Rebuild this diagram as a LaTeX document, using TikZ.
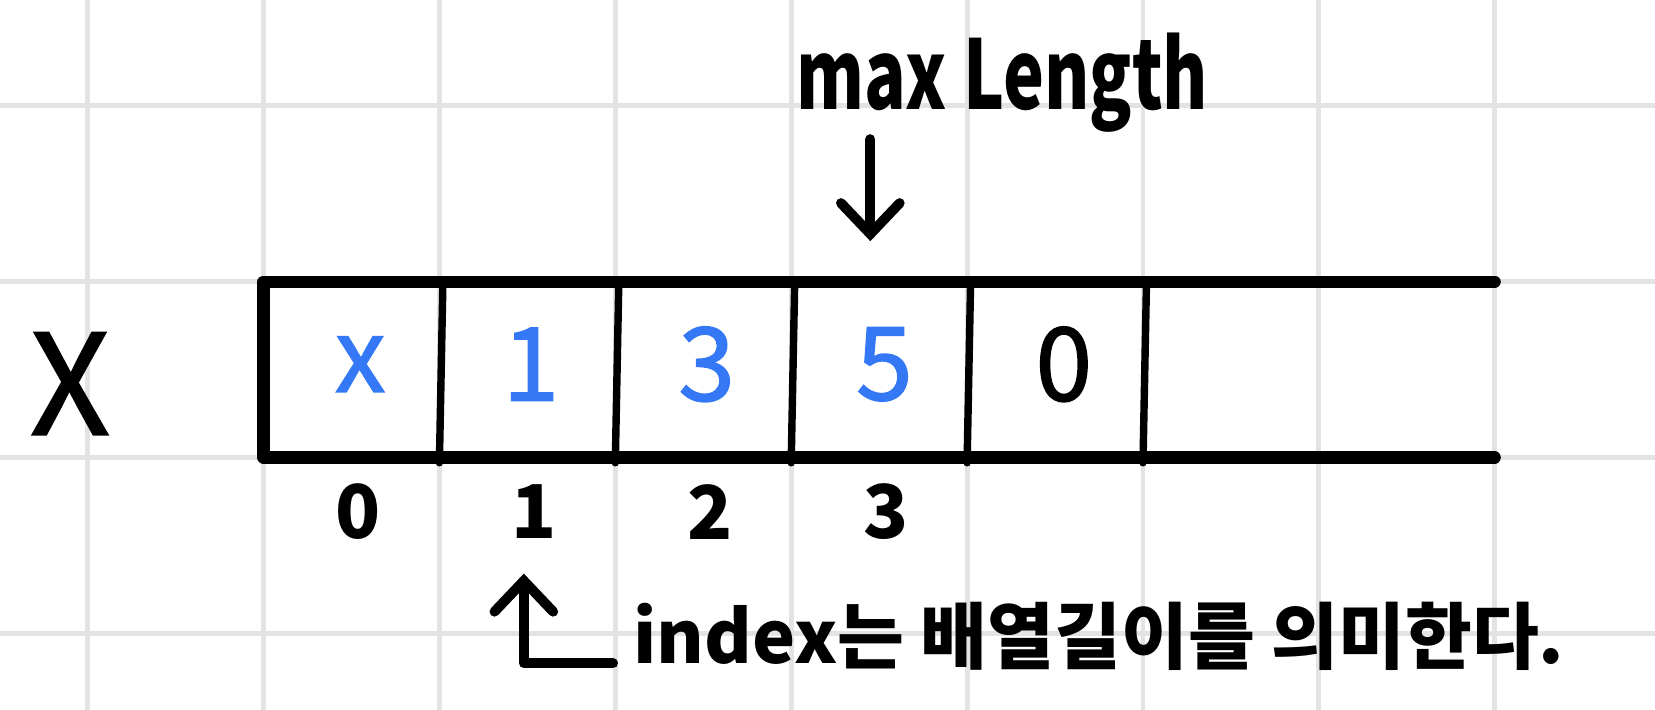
\documentclass[tikz,border=0pt]{standalone}
\usepackage{fontspec}
\setmainfont{Noto Sans CJK KR}
\newfontfamily\medfont{Noto Sans CJK KR}[FakeBold=1.4]
\usetikzlibrary{arrows.meta}
\definecolor{gridgray}{RGB}{227,227,227}
\definecolor{penblue}{RGB}{52,120,246}

\begin{document}
\begin{tikzpicture}[x=2cm,y=2cm,
	gridline/.style={draw=gridgray,line width=1.6pt},
	boxline/.style={line width=3.9pt,line cap=round,line join=round},
	divline/.style={line width=2.4pt,line cap=round},
	arr/.style={line width=3.2pt,line cap=round,line join=round,-{Straight Barb[length=10pt,width=19pt,line cap=round]}},
	val/.style={font=\fontsize{33}{33}\medfont,text=penblue},
	idx/.style={font=\fontsize{24}{24}\selectfont\bfseries}]
	\useasboundingbox (-0.498,-3.433) rectangle (8.911,0.601);
	\draw[gridline,step=2cm] (-0.498,-3.433) grid (8.911,0.601);
	
	\draw[boxline] (8,-1) -- (1,-1) -- (1,-2) -- (8,-2);
	\foreach \x in {2,...,6}
		\draw[divline] (\x+.02,-1) -- (\x,-2.03);
	
	\node[font=\fontsize{45}{45}\medfont] (arrname) at (-0.1,-1.58) {X};
	
	\node[val] (v0) at (1.55,-1.47) {x};
	\node[val] (v1) at (2.52,-1.47) {1};
	\node[val] (v2) at (3.52,-1.47) {3};
	\node[val] (v3) at (4.53,-1.47) {5};
	\node[val,text=black] (v4) at (5.55,-1.47) {0};
	
	\foreach \i in {0,...,3}
		\node[idx] (i\i) at (\i+1.54,-2.31) {\i};
	
	\node[font=\fontsize{31}{31}\selectfont\bfseries,anchor=base] (maxlen) at (5.2,-0.02) {\scalebox{0.72}[1]{max Length}};
	\coordinate (mtop) at (4.45,-0.19);
	\coordinate (mtip) at (4.45,-0.77);
	\draw[arr] (mtop) -- (mtip);
	
	\node[font=\fontsize{23.5}{24}\selectfont\bfseries,anchor=base west] (note) at (3.04,-3.17) {index는 배열길이를 의미한다.};
	\coordinate (ltip) at (2.48,-2.66);
	\draw[arr] ([xshift=-3pt]note.base west) -- (note.base west -| ltip) -- (ltip);
\end{tikzpicture}
\end{document}
